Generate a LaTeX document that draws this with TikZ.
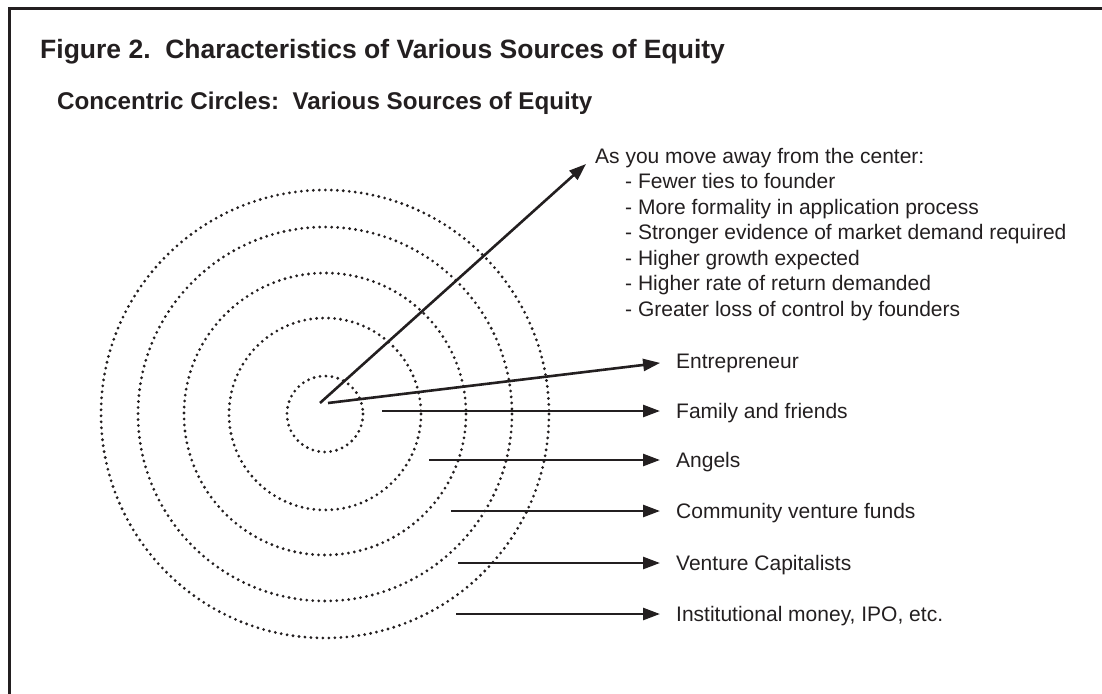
\documentclass[tikz,border=0pt]{standalone}
\usepackage{fontspec}
\setmainfont{Liberation Sans}
\usetikzlibrary{arrows.meta}
\definecolor{ink}{HTML}{231F20}
\begin{document}
\begin{tikzpicture}[x=1pt,y=-1pt,
  ring/.style={draw=ink,line width=3.1pt,line cap=round,dash pattern=on 0pt off 6pt},
  arr/.style={draw=ink,line width=2.6pt,-{Triangle[length=17pt,width=12pt]}},
  lbl/.style={anchor=west,inner sep=0pt,text height=15pt,text depth=0pt,text=ink,font=\fontsize{21}{25}\selectfont},
  frame/.style={draw=ink,line width=2.6pt}]
\useasboundingbox (0,0) rectangle (1102,693);
\draw[frame] (9.5,694) -- (9.5,8.5) -- (1103,8.5);
% titles
\node[anchor=base west,inner sep=0pt,text=ink,font=\bfseries\fontsize{26.5}{30}\selectfont] (title) at (40,59) {Figure 2.\ \ Characteristics of Various Sources of Equity};
\node[anchor=base west,inner sep=0pt,text=ink,font=\bfseries\fontsize{24.2}{28}\selectfont] (sub) at (57,109) {Concentric Circles:\ \ Various Sources of Equity};
% circles
\coordinate (c) at (325,414);
\foreach \r in {38,96,141,187,224} \draw[ring] (c) circle[radius=\r];
% list text (anchored at the baseline of its last line)
\node[anchor=base west,inner sep=0pt,text=ink,align=left,font=\fontsize{21}{25.5}\selectfont] (list) at (595,316)
 {As you move away from the center:\\
  \hspace*{30pt}- Fewer ties to founder\\
  \hspace*{30pt}- More formality in application process\\
  \hspace*{30pt}- Stronger evidence of market demand required\\
  \hspace*{30pt}- Higher growth expected\\
  \hspace*{30pt}- Higher rate of return demanded\\
  \hspace*{30pt}- Greater loss of control by founders};
\coordinate (tipA) at (586,164);
\coordinate (s0) at (320,403);
\draw[arr] (s0) -- (tipA);
% labels
\node[lbl] (l1) at (676,361) {Entrepreneur};
\node[lbl] (l2) at (676,411) {Family and friends};
\node[lbl] (l3) at (676,460) {Angels};
\node[lbl] (l4) at (676,511) {Community venture funds};
\node[lbl] (l5) at (676,563) {Venture Capitalists};
\node[lbl] (l6) at (676,614) {Institutional money, IPO, etc.};
\coordinate (s1) at (328,403);
\coordinate (s2) at (382,411);
\coordinate (s3) at (429,460);
\coordinate (s4) at (451,511);
\coordinate (s5) at (458,563);
\coordinate (s6) at (456,614);
\foreach \i in {1,...,6} \draw[arr,shorten >=16pt] (s\i) -- (l\i.west);
\end{tikzpicture}
\end{document}
